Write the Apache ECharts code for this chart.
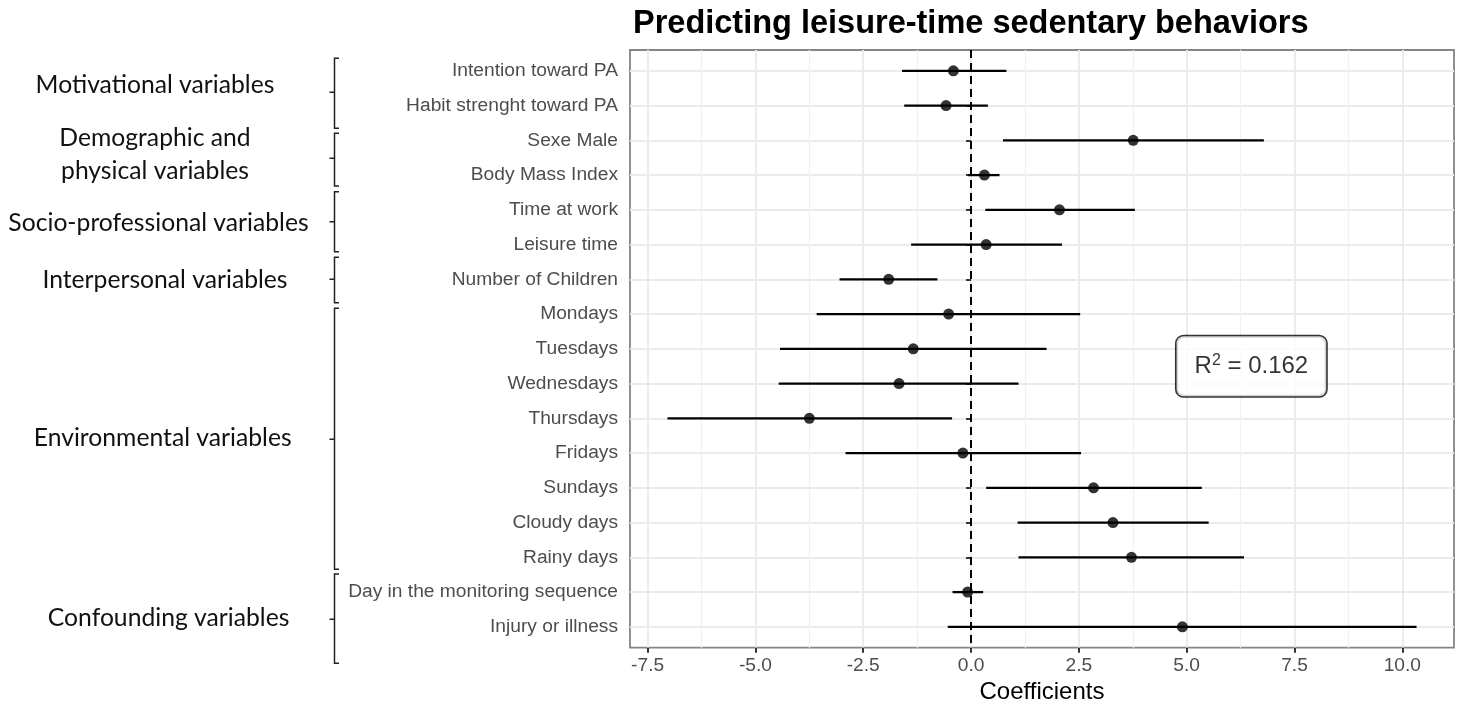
<!DOCTYPE html>
<html><head><meta charset="utf-8">
<script src="https://cdn.jsdelivr.net/npm/echarts@6/dist/echarts.min.js"></script>
<style>html,body{margin:0;padding:0;background:#fff}#c{width:1461px;height:708px}</style>
</head><body><div id="c"></div>
<script>
const categories = ["Intention toward PA","Habit strenght toward PA","Sexe Male","Body Mass Index","Time at work","Leisure time","Number of Children","Mondays","Tuesdays","Wednesdays","Thursdays","Fridays","Sundays","Cloudy days","Rainy days","Day in the monitoring sequence","Injury or illness"];
const estimates = [-0.41,-0.58,3.76,0.31,2.05,0.35,-1.91,-0.52,-1.34,-1.67,-3.75,-0.19,2.84,3.29,3.72,-0.08,4.90];
const lowerCI   = [-1.60,-1.55,0.74,-0.07,0.33,-1.39,-3.05,-3.58,-4.43,-4.46,-7.04,-2.91,0.35,1.08,1.10,-0.43,-0.54];
const upperCI   = [0.82,0.39,6.79,0.66,3.80,2.11,-0.78,2.53,1.75,1.10,-0.44,2.55,5.35,5.51,6.33,0.28,10.33];
const xTickValues = [-7.5,-5,-2.5,0,2.5,5,7.5,10];
const xMinorValues = [-6.25,-3.75,-1.25,1.25,3.75,6.25,8.75];
const rSquared = "0.162";
const rLabelPos = [6.5, 9.5];
const groupLabels = [
  {text:"Motivational variables", x:155, y:85},
  {text:"Demographic and\nphysical variables", x:155, y:154.5},
  {text:"Socio-professional variables", x:158.5, y:223},
  {text:"Interpersonal variables", x:165, y:280},
  {text:"Environmental variables", x:162.7, y:438},
  {text:"Confounding variables", x:168.6, y:618}
];
const braces = [[58.3,92.3,128.3],[133.3,158.3,186],[191.7,221.7,251.7],[257.3,279.3,302.7],[308.3,439.3,569.3],[574,619.3,663.3]];

const rows = categories.map((_, i) => i + 1);
const lo = Math.min(...lowerCI), hi = Math.max(...upperCI);
const pad = (hi - lo) * 0.05;
const xMin = lo - pad, xMax = hi + pad;
const FONT = "'Liberation Sans', Arial, sans-serif";

const ciData = rows.map((r, i) => [lowerCI[i], upperCI[i], r]);
const ptData = rows.map((r, i) => [estimates[i], r]);

const graphics = [];
braces.forEach(b => {
  const t = b[0], m = b[1], bt = b[2], xv = 334.5, xr = 339, xl = 329.5;
  graphics.push({type:'polyline', shape:{points:[[xr,t],[xv,t],[xv,m],[xl,m],[xv,m],[xv,bt],[xr,bt]]}, style:{fill:null, stroke:'#222', lineWidth:1.5}});
});
groupLabels.forEach(g => graphics.push({type:'text', x:g.x, y:g.y, style:{text:g.text, x:0, y:0, align:'center', verticalAlign:'middle', font:"24.7px Lato, 'Open Sans', sans-serif", fill:'#111', lineHeight:33}}));

const chart = echarts.init(document.getElementById('c'), null, {renderer:'canvas'});
chart.setOption({
  animation:false,
  title:{text:'Predicting leisure-time sedentary behaviors', left:628, top:3, textStyle:{fontFamily:FONT, fontWeight:'bold', fontSize:32.5, color:'#000'}},
  grid:{left:630, top:50, right:7, bottom:60.3, outerBoundsMode:'none', containLabel:false, show:true, borderColor:'#858585', borderWidth:1.8, backgroundColor:'transparent'},
  xAxis:[{
    type:'value', min:xMin, max:xMax,
    name:'Coefficients', nameLocation:'middle', nameGap:32, nameTextStyle:{fontFamily:FONT, fontSize:24, color:'#000'},
    axisLine:{show:false},
    axisTick:{show:true, length:5, customValues:xTickValues, lineStyle:{color:'#333', width:2}},
    axisLabel:{customValues:xTickValues, margin:9, fontFamily:FONT, fontSize:19.2, color:'#4d4d4d', formatter:v => v.toFixed(1)},
    splitLine:{show:true, lineStyle:{color:'#ebebeb', width:2}}
  },{
    type:'value', min:xMin, max:xMax, position:'top',
    axisLine:{show:false}, axisLabel:{show:false},
    axisTick:{show:false, customValues:xMinorValues},
    splitLine:{show:true, lineStyle:{color:'#f0f0f0', width:1.2}}
  }],
  yAxis:{
    type:'value', min:0.4, max:17.6, inverse:true,
    axisLine:{show:false},
    axisTick:{show:true, length:5, customValues:rows, lineStyle:{color:'#333', width:2}},
    axisLabel:{customValues:rows, margin:12, fontFamily:FONT, fontSize:19.2, color:'#4d4d4d', formatter:v => categories[Math.round(v)-1] || ''},
    splitLine:{show:true, lineStyle:{color:'#ebebeb', width:2}}
  },
  series:[{
    type:'custom', name:'CI', data:ciData, encode:{x:[0,1], y:2}, z:3,
    renderItem:(params, api) => {
      const p1 = api.coord([api.value(0), api.value(2)]);
      const p2 = api.coord([api.value(1), api.value(2)]);
      return {type:'line', shape:{x1:p1[0], y1:p1[1], x2:p2[0], y2:p2[1]}, style:{stroke:'#000', lineWidth:2.3}};
    }
  },{
    type:'scatter', name:'Estimate', data:ptData, symbolSize:11, z:4,
    itemStyle:{color:'#000'},
    markLine:{silent:true, symbol:['none','none'], label:{show:false}, lineStyle:{color:'#000', type:[8,5], width:2}, data:[{xAxis:0}]}
  },{
    type:'scatter', name:'R2', data:[rLabelPos], symbolSize:0, z:5, silent:true,
    label:{show:true, position:'inside', formatter:'{a|R}{s|2}{a| = ' + rSquared + '}',
      backgroundColor:'#fff', borderColor:'#000', borderWidth:1.6, borderRadius:7, padding:[16,18,16,18],
      rich:{a:{fontFamily:FONT, fontSize:24, color:'#000', lineHeight:28}, s:{fontFamily:FONT, fontSize:16, color:'#000', lineHeight:16, verticalAlign:'top'}}}
  }],
  graphic:graphics
});
</script></body></html>
